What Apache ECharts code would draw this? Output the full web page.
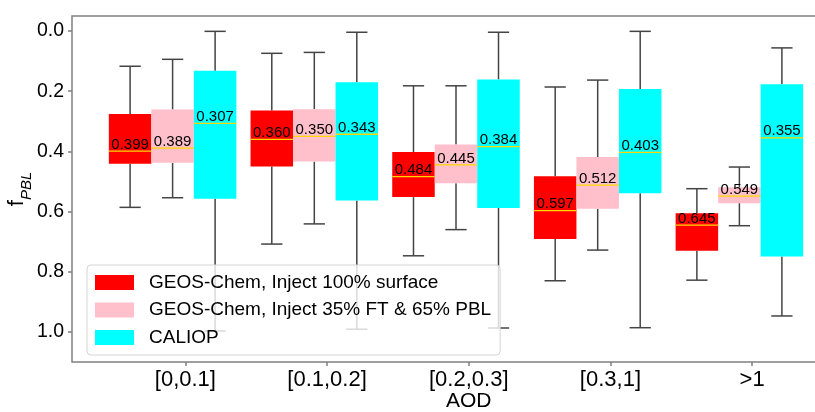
<!DOCTYPE html>
<html>
<head>
<meta charset="utf-8">
<script src="https://cdn.jsdelivr.net/npm/echarts@6/dist/echarts.min.js"></script>
<style>
  html, body { margin: 0; padding: 0; background: #fff; }
  #chart { width: 815px; height: 412px; }
</style>
</head>
<body>
<div id="chart"></div>
<script>
// categories on the x axis
const categories = ['[0,0.1]', '[0.1,0.2]', '[0.2,0.3]', '[0.3,1]', '>1']
const yTicks = [0.0, 0.2, 0.4, 0.6, 0.8, 1.0]

// each row: [whisker top, q1, median, q3, whisker bottom]
const surface = [
  [0.117, 0.276, 0.399, 0.441, 0.586],
  [0.074, 0.264, 0.360, 0.450, 0.708],
  [0.182, 0.402, 0.484, 0.552, 0.747],
  [0.186, 0.483, 0.597, 0.691, 0.830],
  [0.524, 0.606, 0.645, 0.730, 0.828]
]
const mixed = [
  [0.094, 0.261, 0.389, 0.438, 0.554],
  [0.071, 0.260, 0.350, 0.434, 0.641],
  [0.182, 0.377, 0.445, 0.506, 0.660],
  [0.163, 0.419, 0.512, 0.591, 0.728],
  [0.452, 0.519, 0.549, 0.572, 0.647]
]
const caliop = [
  [0.001, 0.132, 0.307, 0.557, 0.997],
  [0.004, 0.170, 0.343, 0.563, 0.991],
  [0.004, 0.161, 0.384, 0.588, 0.987],
  [0.001, 0.193, 0.403, 0.539, 0.986],
  [0.056, 0.177, 0.355, 0.749, 0.947]
]

const seriesNames = [
  'GEOS-Chem, Inject 100% surface',
  'GEOS-Chem, Inject 35% FT & 65% PBL',
  'CALIOP'
]
const colors = ['#ff0000', '#ffc0cb', '#00ffff']
const offsets = [-0.39, -0.09, 0.21]
const boxWidth = 0.3
const font = 'Liberation Sans'

function makeRender (offset) {
  return function (params, api) {
    const x = api.value(0) + offset
    const w = api.size([boxWidth, 0])[0]
    const top = api.coord([x, api.value(1)])
    const q1 = api.coord([x, api.value(2)])
    const med = api.coord([x, api.value(3)])
    const q3 = api.coord([x, api.value(4)])
    const bot = api.coord([x, api.value(5)])
    const cx = top[0]
    const lineStyle = { stroke: '#444', lineWidth: 1.5 }
    return {
      type: 'group',
      children: [
        { type: 'line', shape: { x1: cx, y1: top[1], x2: cx, y2: q1[1] }, style: lineStyle },
        { type: 'line', shape: { x1: cx, y1: q3[1], x2: cx, y2: bot[1] }, style: lineStyle },
        { type: 'line', shape: { x1: cx - w / 4, y1: top[1], x2: cx + w / 4, y2: top[1] }, style: lineStyle },
        { type: 'line', shape: { x1: cx - w / 4, y1: bot[1], x2: cx + w / 4, y2: bot[1] }, style: lineStyle },
        { type: 'rect', shape: { x: cx - w / 2, y: q1[1], width: w, height: q3[1] - q1[1] }, style: { fill: api.visual('color') } },
        { type: 'line', shape: { x1: cx - w / 2, y1: med[1], x2: cx + w / 2, y2: med[1] }, style: { stroke: '#ffd700', lineWidth: 1.3 } },
        {
          type: 'text',
          style: {
            text: api.value(3).toFixed(3),
            x: cx,
            y: med[1] + 1,
            align: 'center',
            verticalAlign: 'bottom',
            fontSize: 15,
            fontFamily: font,
            fill: '#000'
          }
        }
      ]
    }
  }
}

function toData (rows) {
  return rows.map((r, i) => [i + 1].concat(r))
}

const chart = echarts.init(document.getElementById('chart'))
chart.setOption({
  animation: false,
  backgroundColor: '#fff',
  grid: {
    left: 72,
    top: 16,
    width: 793.5,
    height: 346,
    outerBoundsMode: 'none',
    containLabel: false,
    show: true,
    borderColor: '#808080',
    borderWidth: 1.5
  },
  legend: {
    orient: 'vertical',
    left: 87,
    top: 265,
    padding: [8, 9, 8, 8],
    itemWidth: 39,
    itemHeight: 15,
    itemGap: 8.5,
    icon: 'rect',
    backgroundColor: 'rgba(255,255,255,0.8)',
    borderColor: '#d4d4d4',
    borderWidth: 1,
    borderRadius: 4,
    textStyle: {
      fontFamily: font,
      fontSize: 19,
      lineHeight: 19,
      color: '#000',
      padding: [0, 0, 0, 10]
    },
    data: seriesNames
  },
  xAxis: {
    type: 'value',
    min: 0.2,
    max: 5.8,
    name: 'AOD',
    nameLocation: 'middle',
    nameGap: 29,
    nameMoveOverlap: false,
    nameTextStyle: { fontFamily: font, fontSize: 21, color: '#000' },
    axisLine: { show: false, onZero: false },
    axisTick: { show: true, customValues: [1, 2, 3, 4, 5], length: 4, lineStyle: { color: '#808080', width: 1.5 } },
    axisLabel: {
      customValues: [1, 2, 3, 4, 5],
      formatter: v => categories[Math.round(v) - 1],
      fontFamily: font,
      fontSize: 22,
      color: '#000',
      margin: 7
    },
    splitLine: { show: false }
  },
  yAxis: {
    type: 'value',
    inverse: true,
    min: -0.05,
    max: 1.1,
    name: '{f|f}{s|PBL}',
    nameLocation: 'middle',
    nameGap: 38,
    nameMoveOverlap: false,
    nameTextStyle: {
      rich: {
        f: { fontFamily: font, fontSize: 22, color: '#000', padding: [0, 0, 6, 0], verticalAlign: 'bottom' },
        s: { fontFamily: font, fontSize: 15, fontStyle: 'italic', color: '#000', verticalAlign: 'bottom' }
      }
    },
    axisLine: { show: false, onZero: false },
    axisTick: { show: true, customValues: yTicks, length: 4, lineStyle: { color: '#808080', width: 1.5 } },
    axisLabel: {
      customValues: yTicks,
      formatter: v => v.toFixed(1),
      fontFamily: font,
      fontSize: 19.5,
      color: '#000',
      margin: 8
    },
    splitLine: { show: false }
  },
  series: [surface, mixed, caliop].map((rows, k) => ({
    type: 'custom',
    name: seriesNames[k],
    itemStyle: { color: colors[k] },
    renderItem: makeRender(offsets[k]),
    encode: { x: 0, y: [1, 2, 3, 4, 5] },
    data: toData(rows)
  }))
})
</script>
</body>
</html>
